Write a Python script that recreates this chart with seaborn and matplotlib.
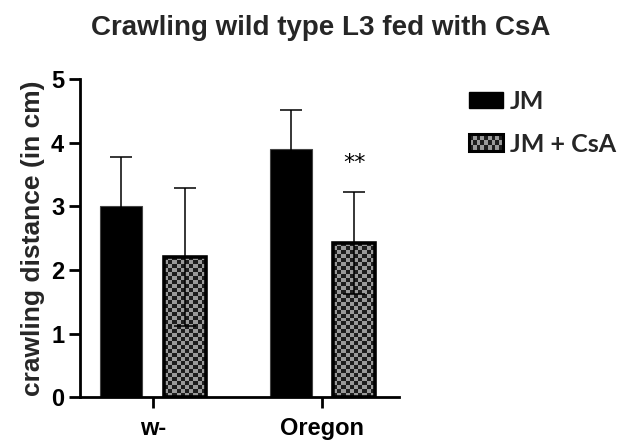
import numpy as np
import pandas as pd
import matplotlib
matplotlib.use("Agg")
import matplotlib.pyplot as plt
from matplotlib.patches import Rectangle, Patch
from matplotlib.legend_handler import HandlerBase
from matplotlib.colors import ListedColormap
import seaborn as sns

# ---- data ----
genotypes = ["w-", "Oregon"]
treatments = ["JM", "JM + CsA"]
mean_jm = [3.0, 3.9]
mean_csa = [2.2, 2.42]
err_jm = [0.77, 0.62]
err_csa = [1.08, 0.80]
signif_label = "**"
signif_y = 3.68

df = pd.DataFrame({
    "genotype": genotypes * 2,
    "treatment": [treatments[0]] * 2 + [treatments[1]] * 2,
    "distance": mean_jm + mean_csa,
})
errs = {treatments[0]: err_jm, treatments[1]: err_csa}

sns.set_style("ticks")
plt.rcParams["font.family"] = ["Liberation Sans", "DejaVu Sans"]

fig = plt.figure(figsize=(6.19, 4.41), dpi=100)
ax = fig.add_axes([79.5 / 619, 1 - 397.3 / 441, (399 - 79.5) / 619, (397.3 - 79) / 441])

sns.barplot(data=df, x="genotype", y="distance", hue="treatment",
            hue_order=treatments, order=genotypes,
            palette=["black", "#9a9a9a"], width=0.75, gap=0.34,
            errorbar=None, legend=False, ax=ax)

ax.set_xlim(-0.432, 1.452)
ax.set_ylim(0, 5)
ax.set_yticks([0, 1, 2, 3, 4, 5])

fig.canvas.draw()
px_per_x = ax.transData.transform((1, 0))[0] - ax.transData.transform((0, 0))[0]
px_per_y = ax.transData.transform((0, 1))[1] - ax.transData.transform((0, 0))[1]

cell = 4.0
checker_cmap = ListedColormap(["#1e1e1e", "#9a9a9a"])

bar_containers = list(ax.containers)[:2]
for ci, cont in enumerate(bar_containers):
    tname = treatments[ci]
    for bi, bar in enumerate(cont):
        xc = bar.get_x() + bar.get_width() / 2
        h = bar.get_height()
        if ci == 0:
            bar.set_facecolor("black")
            bar.set_edgecolor("#444444")
            bar.set_linewidth(0.8)
            bar.set_zorder(2)
        else:
            bar.set_facecolor("none")
            bar.set_edgecolor("black")
            bar.set_linewidth(2.6)
            bar.set_zorder(2.2)
            w = bar.get_width()
            nx = max(1, int(round(w * px_per_x / cell)))
            ny = max(1, int(round(h * px_per_y / cell)))
            arr = (np.add.outer(np.arange(ny), np.arange(nx)) % 2).astype(float)
            im = ax.imshow(arr, extent=[bar.get_x(), bar.get_x() + w, 0, h],
                           origin="lower", cmap=checker_cmap, vmin=0, vmax=1,
                           interpolation="nearest", aspect="auto", zorder=1.8)
            im.set_clip_path(bar)
        ax.errorbar(xc, h, yerr=errs[tname][bi], fmt="none", ecolor="black",
                    elinewidth=1.1, capsize=7.8, capthick=1.1, zorder=3)
        if ci == 1 and bi == 1:
            ax.text(xc, signif_y, signif_label, ha="center", va="center",
                    fontsize=16, color="black", family="DejaVu Sans")

ax.set_aspect("auto")
ax.set_xlim(-0.432, 1.452)
ax.set_ylim(0, 5)

for s in ["top", "right"]:
    ax.spines[s].set_visible(False)
for s in ["left", "bottom"]:
    ax.spines[s].set_linewidth(2.0)
    ax.spines[s].set_color("black")
ax.tick_params(axis="both", width=2.0, length=8, color="black",
               labelsize=17, labelcolor="black")
ax.tick_params(axis="y", pad=3)
for lab in ax.get_xticklabels() + ax.get_yticklabels():
    lab.set_fontweight("bold")
ax.tick_params(axis="x", pad=6)
ax.set_xlabel("")
ax.set_ylabel("crawling distance (in cm)", fontsize=19, fontweight="bold",
              labelpad=4)
fig.suptitle("Crawling wild type L3 fed with CsA", x=0.518, y=0.965,
             fontsize=20, fontweight="bold", va="top")


class CheckerHandler(HandlerBase):
    def create_artists(self, legend, orig_handle, xdescent, ydescent,
                       width, height, fontsize, trans):
        x0, y0 = -xdescent, -ydescent
        arts = [Rectangle((x0, y0), width, height, facecolor="#9a9a9a",
                          edgecolor="none", transform=trans)]
        ncols, nrows = 9, 3
        cw, chh = width / ncols, height / nrows
        for r in range(nrows):
            for c in range(ncols):
                if (r + c) % 2 == 0:
                    arts.append(Rectangle((x0 + c * cw, y0 + r * chh), cw, chh,
                                          facecolor="#1e1e1e", edgecolor="none",
                                          transform=trans))
        arts.append(Rectangle((x0, y0), width, height, facecolor="none",
                              edgecolor="black", linewidth=2.2, transform=trans))
        return arts


h_jm = Patch(facecolor="black", edgecolor="black")
h_csa = Patch(facecolor="#9a9a9a", edgecolor="black")
leg = ax.legend([h_jm, h_csa], treatments, loc="upper left",
                bbox_to_anchor=(469 / 619, 1 - 90 / 441),
                bbox_transform=fig.transFigure, frameon=False,
                handler_map={h_csa: CheckerHandler()},
                prop={"family": ["Lato", "DejaVu Sans"], "weight": "bold", "size": 18},
                handlelength=1.36, handleheight=0.64, handletextpad=0.28,
                labelspacing=0.78, borderpad=0, borderaxespad=0)

fig.savefig("out.png", dpi=100, facecolor="white")
